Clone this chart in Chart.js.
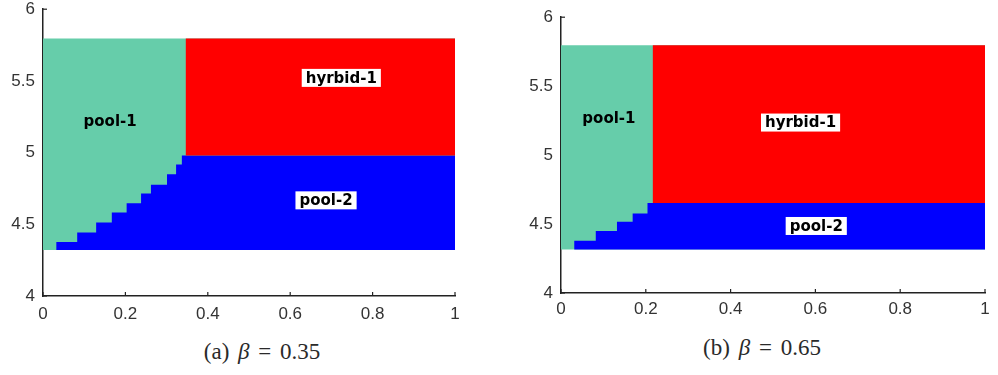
<!DOCTYPE html>
<html>
<head>
<meta charset="utf-8">
<script src="https://cdn.jsdelivr.net/npm/chart.js@4.4.1/dist/chart.umd.min.js"></script>
<style>
  body { margin: 0; background: #fff; }
  #wrap { position: relative; width: 998px; height: 375px; overflow: hidden; }
  canvas { position: absolute; }
  .caption {
    position: absolute;
    font-family: "Liberation Serif", "DejaVu Serif", serif;
    font-size: 23px;
    word-spacing: 3px;
    color: #2a2a2a;
    white-space: nowrap;
    transform: translate(-50%, -50%);
  }
</style>
</head>
<body>
<div id="wrap">
  <canvas id="chart-a" width="470" height="335" style="left:0;top:-9px"></canvas>
  <canvas id="chart-b" width="480" height="335" style="left:518px;top:-1px"></canvas>
  <div class="caption" style="left:262px;top:352px">(a) <i>β</i> = 0.35</div>
  <div class="caption" style="left:762px;top:348px">(b) <i>β</i> = 0.65</div>
</div>
<script>
// Axis ticks shared by both panels
const xTicks = [0, 0.2, 0.4, 0.6, 0.8, 1];
const yTicks = [4, 4.5, 5, 5.5, 6];

// Panel (a): beta = 0.35
const regionTopA = 5.795;
const regionBottomA = 4.32;
const boundaryXA = [0.032, 0.083, 0.129, 0.167, 0.203, 0.238, 0.262, 0.301, 0.323, 0.337, 1];
const boundaryYA = [4.377, 4.442, 4.512, 4.583, 4.646, 4.715, 4.776, 4.849, 4.917, 4.979, 4.979];
const hybridLeftA = 0.346;
const hybridBottomA = 4.979;
const labelNamesA = ["pool-1", "hyrbid-1", "pool-2"];
const labelXA = [0.163, 0.724, 0.687];
const labelYA = [5.222, 5.521, 4.667];

// Panel (b): beta = 0.65
const regionTopB = 5.796;
const regionBottomB = 4.315;
const boundaryXB = [0.031, 0.082, 0.132, 0.169, 0.204, 1];
const boundaryYB = [4.378, 4.45, 4.517, 4.577, 4.652, 4.652];
const hybridLeftB = 0.216;
const hybridBottomB = 4.652;
const labelNamesB = ["pool-1", "hyrbid-1", "pool-2"];
const labelXB = [0.113, 0.565, 0.602];
const labelYB = [5.265, 5.236, 4.486];

const teal = "#66cdaa";
const red = "#ff0000";
const blue = "#0000ff";
const axisColor = "#222";

// Small inward tick marks, drawn under the coloured regions
const innerTicks = {
  id: "innerTicks",
  beforeDatasetsDraw(chart) {
    const { ctx, scales: { x, y } } = chart;
    ctx.save();
    ctx.strokeStyle = axisColor;
    ctx.lineWidth = 1.2;
    xTicks.forEach((v) => {
      const px = x.getPixelForValue(v);
      ctx.beginPath();
      ctx.moveTo(px, y.bottom);
      ctx.lineTo(px, y.bottom - 4);
      ctx.stroke();
    });
    yTicks.forEach((v) => {
      const py = y.getPixelForValue(v);
      ctx.beginPath();
      ctx.moveTo(x.left, py);
      ctx.lineTo(x.left + 4, py);
      ctx.stroke();
    });
    ctx.restore();
  },
};

// Region names; the first one sits on teal without a box
const regionLabels = {
  id: "regionLabels",
  afterDatasetsDraw(chart, args, opts) {
    const { ctx, scales: { x, y } } = chart;
    ctx.save();
    ctx.font = "bold 15px 'DejaVu Sans'";
    ctx.textAlign = "center";
    ctx.textBaseline = "middle";
    opts.names.forEach((name, i) => {
      const px = x.getPixelForValue(opts.xs[i]);
      const py = y.getPixelForValue(opts.ys[i]);
      if (i > 0) {
        const w = ctx.measureText(name).width + 8;
        ctx.fillStyle = "#fff";
        ctx.fillRect(px - w / 2, py - 9, w, 18);
      }
      ctx.fillStyle = "#000";
      ctx.fillText(name, px, py + 1);
    });
    ctx.restore();
  },
};

function makePanel(id, p) {
  const ctx = document.getElementById(id).getContext("2d");
  const boundary = p.bx.map((bx, i) => ({ x: bx, y: p.by[i] }));

  new Chart(ctx, {
    type: "line",
    data: {
      datasets: [
        {
          label: "hyrbid-1",
          data: [{ x: p.hybridLeft, y: p.top }, { x: 1, y: p.top }],
          fill: { value: p.hybridBottom },
          backgroundColor: red,
          borderColor: "transparent",
          borderWidth: 0,
          pointRadius: 0,
          order: 1,
        },
        {
          label: "pool-2",
          data: boundary,
          stepped: "before",
          fill: { value: p.bottom },
          backgroundColor: blue,
          borderColor: "transparent",
          borderWidth: 0,
          pointRadius: 0,
          order: 2,
        },
        {
          label: "pool-1",
          data: [{ x: 0, y: p.top }, { x: 1, y: p.top }],
          fill: { value: p.bottom },
          backgroundColor: teal,
          borderColor: "transparent",
          borderWidth: 0,
          pointRadius: 0,
          order: 3,
        },
      ],
    },
    options: {
      responsive: false,
      animation: false,
      layout: { padding: { top: 0, right: p.padRight, left: 0, bottom: 0 } },
      plugins: {
        legend: { display: false },
        tooltip: { enabled: false },
        regionLabels: { names: p.names, xs: p.lx, ys: p.ly },
      },
      scales: {
        x: {
          type: "linear",
          min: 0,
          max: 1,
          afterBuildTicks: (s) => { s.ticks = xTicks.map((v) => ({ value: v })); },
          afterFit: (s) => { s.height = p.xAxisHeight; },
          grid: { display: true, drawOnChartArea: false, drawTicks: false },
          border: { display: true, color: axisColor, width: 1.5 },
          ticks: {
            padding: p.xPad,
            color: "#333",
            font: { family: "Liberation Sans", size: 17 },
            maxRotation: 0,
            callback: (v) => String(+v.toFixed(1)),
          },
        },
        y: {
          type: "linear",
          min: 4,
          max: 6,
          afterBuildTicks: (s) => { s.ticks = yTicks.map((v) => ({ value: v })); },
          afterFit: (s) => { s.width = 43; },
          grid: { display: true, drawOnChartArea: false, drawTicks: false },
          border: { display: true, color: axisColor, width: 1.5 },
          ticks: {
            padding: 8,
            color: "#333",
            font: { family: "Liberation Sans", size: 17 },
            callback: (v) => String(+v.toFixed(1)),
          },
        },
      },
    },
    plugins: [innerTicks, regionLabels],
  });
}

makePanel("chart-a", {
  top: regionTopA, bottom: regionBottomA,
  bx: boundaryXA, by: boundaryYA,
  hybridLeft: hybridLeftA, hybridBottom: hybridBottomA,
  names: labelNamesA, lx: labelXA, ly: labelYA,
  padRight: 15, xAxisHeight: 30, xPad: 8,
});

makePanel("chart-b", {
  top: regionTopB, bottom: regionBottomB,
  bx: boundaryXB, by: boundaryYB,
  hybridLeft: hybridLeftB, hybridBottom: hybridBottomB,
  names: labelNamesB, lx: labelXB, ly: labelYB,
  padRight: 13, xAxisHeight: 41, xPad: 6,
});
</script>
</body>
</html>
